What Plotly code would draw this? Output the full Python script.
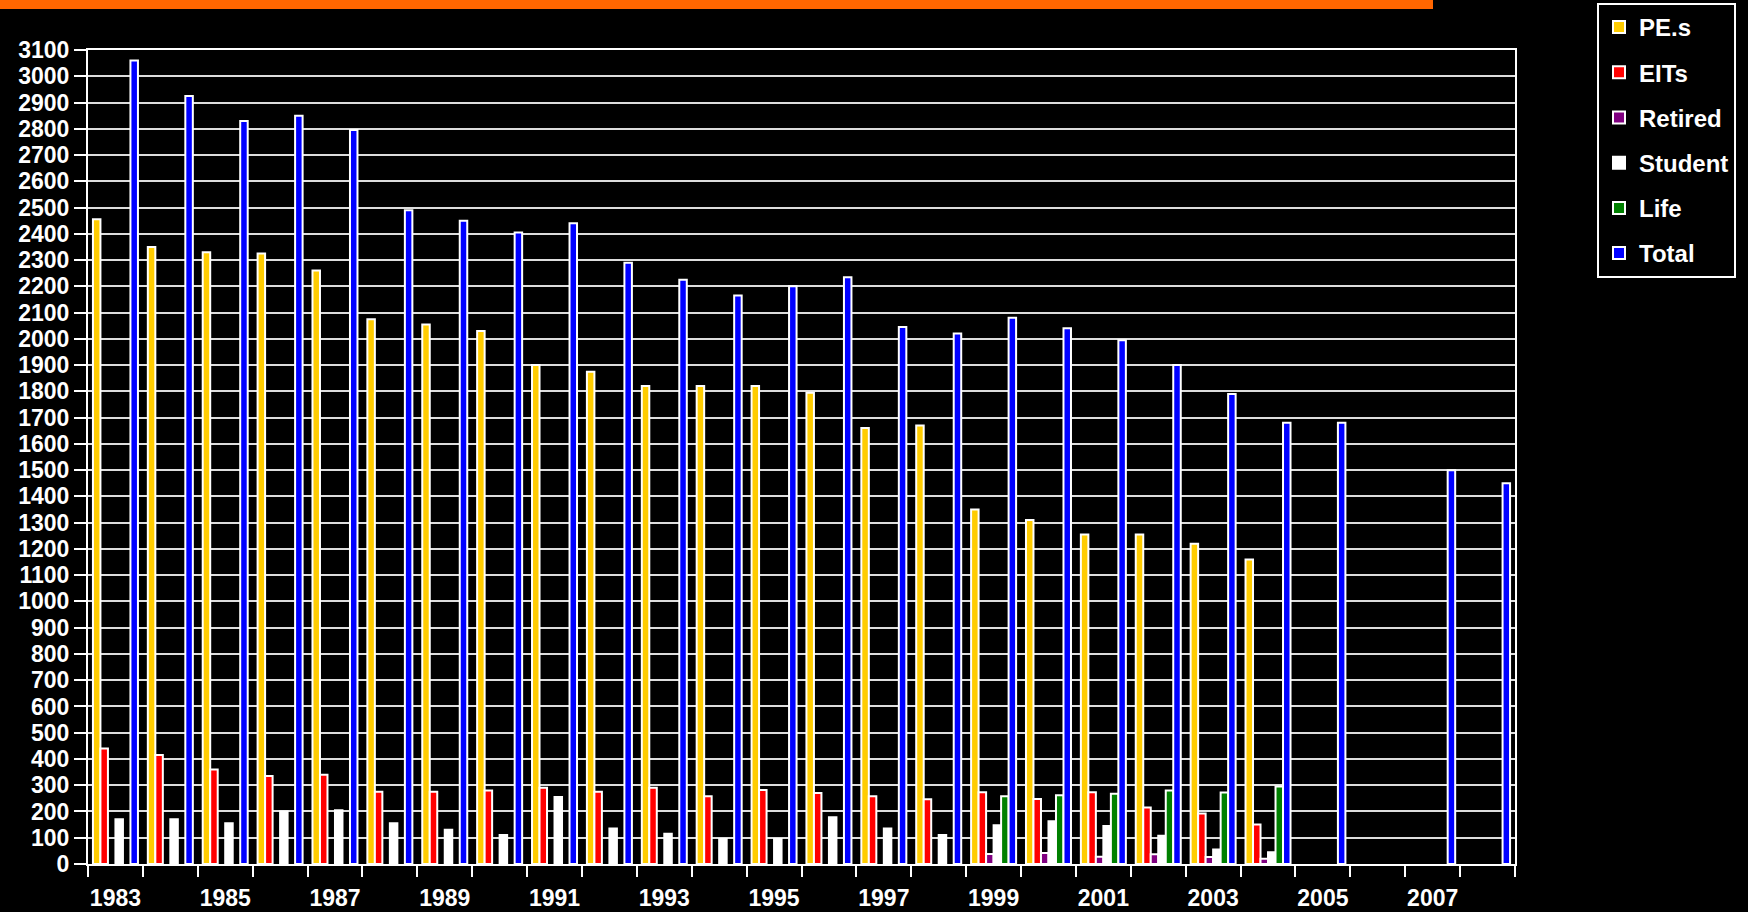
import plotly.graph_objects as go

years = list(range(1983, 2009))
pes = [2455, 2350, 2330, 2325, 2260, 2075, 2055, 2030, 1900, 1875, 1820, 1820, 1820,
       1795, 1660, 1670, 1350, 1310, 1255, 1255, 1220, 1160, None, None, None, None]
eits = [440, 415, 360, 335, 340, 275, 275, 280, 290, 275, 290, 258, 282,
        270, 258, 247, 273, 248, 273, 215, 192, 150, None, None, None, None]
retired = [None] * 16 + [38, 42, 28, 37, 27, 20] + [None] * 4
student = [170, 170, 155, 200, 205, 155, 130, 110, 255, 135, 115, 95, 95,
           178, 135, 110, 148, 163, 145, 108, 55, 45, None, None, None, None]
life = [None] * 16 + [258, 262, 268, 280, 272, 295] + [None] * 4
total = [3060, 2925, 2830, 2850, 2795, 2490, 2450, 2405, 2440, 2290, 2225, 2165, 2200,
         2235, 2045, 2020, 2080, 2040, 1995, 1900, 1790, 1680, 1680, None, 1500, 1450]

series_names = ["PEs", "EITs", "Retired", "Student", "Life", "Total"]
series_values = [pes, eits, retired, student, life, total]
series_colors = ["#FFCC00", "#FF0000", "#800080", "#FFFFFF", "#008000", "#0000FF"]
legend_labels = ["PE.s", "EITs", "Retired", "Student", "Life", "Total"]

label_years = [y for y in years if y % 2 == 1]
label_text = [str(y) for y in label_years]
y_ticks = list(range(0, 3101, 100))

FONT = "Arial, 'Liberation Sans', sans-serif"

fig = go.Figure()
for name, vals, col, lab in zip(series_names, series_values, series_colors, legend_labels):
    fig.add_trace(go.Bar(
        x=years, y=vals, name=lab, legendgroup=name,
        marker=dict(color=col, line=dict(color="#FFFFFF", width=2)),
    ))

W, H = 1748, 912
L, R, T, B = 88, 233, 50, 48
pw = W - L - R
ph = H - T - B

def px_x(x):
    return (x - L) / pw

def px_y(y):
    return (H - B - y) / ph

fig.update_layout(
    width=W, height=H,
    paper_bgcolor="#000000", plot_bgcolor="#000000",
    margin=dict(l=L, r=R, t=T, b=B, pad=0, autoexpand=False),
    barmode="group", bargap=0.18, bargroupgap=0,
    font=dict(family=FONT, color="#FFFFFF", size=22),
    showlegend=True,
    legend=dict(
        x=px_x(1597), y=px_y(3), xanchor="left", yanchor="top",
        bgcolor="#000000", bordercolor="#FFFFFF", borderwidth=2,
        font=dict(family=FONT, size=24, color="#FFFFFF", weight="bold"),
        tracegroupgap=11, itemsizing="constant", itemwidth=30,
    ),
    shapes=[dict(type="rect", xref="paper", yref="paper",
                 x0=px_x(0), x1=px_x(1433), y0=px_y(9), y1=px_y(0),
                 fillcolor="#FF6600", line=dict(width=0), layer="above")],
)

fig.update_xaxes(
    range=[1982.5, 2008.5], automargin=False,
    tickmode="array", tickvals=label_years, ticktext=label_text,
    ticks="", ticklabelstandoff=12,
    tickfont=dict(family=FONT, size=23, color="#FFFFFF", weight="bold"),
    showgrid=False, zeroline=False,
    showline=True, linecolor="#FFFFFF", linewidth=2, mirror=True,
    minor=dict(tickmode="linear", tick0=1982.5, dtick=1, ticks="outside",
               ticklen=11, tickwidth=2, tickcolor="#FFFFFF", showgrid=False),
)
fig.update_yaxes(
    range=[0, 3100], automargin=False, tickmode="array", tickvals=y_ticks,
    ticks="outside", ticklen=12, tickwidth=2, tickcolor="#FFFFFF",
    tickfont=dict(family=FONT, size=23, color="#FFFFFF", weight="bold"),
    showgrid=True, gridcolor="#DDDDDD", gridwidth=2, zeroline=False,
    showline=True, linecolor="#FFFFFF", linewidth=2, mirror=True,
)

fig.write_html(
    "out.html",
    config={"displayModeBar": False},
    post_script="document.body.style.margin='0';document.body.style.overflow='hidden';"
                "document.body.style.background='#000000';",
)
